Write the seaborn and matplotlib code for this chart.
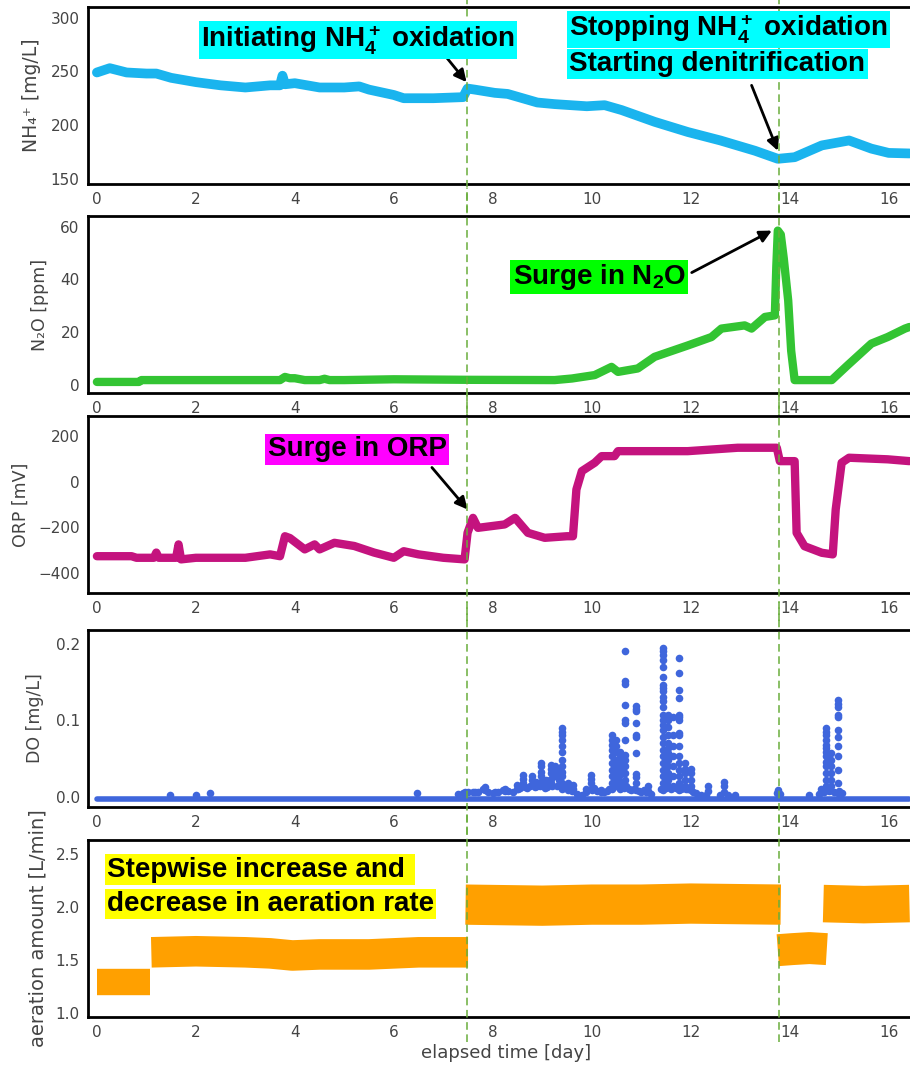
import numpy as np
import pandas as pd
import matplotlib
matplotlib.use("Agg")
import matplotlib.pyplot as plt
import seaborn as sns

# values (time in days)
nh4_t = [0.0, 0.26, 0.6, 1.0, 1.2, 1.5, 2.0, 2.5, 3.0, 3.5, 3.7, 3.75, 3.8, 4.0, 4.5, 5.0, 5.3, 5.5,
         6.0, 6.2, 6.8, 7.4, 7.49, 7.64, 8.04, 8.3, 8.9, 9.25, 9.9, 10.26, 10.6, 11.27, 11.94, 12.6,
         13.3, 13.76, 14.1, 14.65, 15.2, 15.65, 16.0, 16.42]
nh4_v = [249, 253, 249, 248, 248, 244, 240, 237, 235, 237, 237, 246, 238, 239, 235, 235, 236, 233,
         228, 225, 225, 226, 234, 233, 230, 229, 221, 219.5, 217.5, 218.5, 214, 203, 193.5, 185.6,
         176, 168.5, 170, 181, 185.6, 178, 174, 173.5]

n2o_t = [0.0, 0.85, 0.9, 3.7, 3.8, 3.9, 4.0, 4.2, 4.5, 4.6, 4.7, 5.0, 6.0, 7.5, 9.25, 9.6, 10.06,
         10.4, 10.53, 10.93, 11.27, 11.94, 12.42, 12.62, 13.09, 13.23, 13.5, 13.7, 13.73, 13.76,
         13.82, 13.88, 13.97, 14.03, 14.1, 14.85, 15.17, 15.65, 15.98, 16.33, 16.42]
n2o_v = [1.2, 1.2, 1.9, 1.9, 3.1, 2.6, 2.6, 1.9, 1.9, 2.4, 1.9, 1.9, 2.2, 2.0, 1.9, 2.5, 3.8,
         6.9, 5.0, 6.3, 10.7, 15.0, 18.2, 21.4, 22.6, 21.4, 25.8, 26.4, 45.0, 58.5,
         57.0, 48.0, 32.0, 13.0, 1.9, 1.9, 7.5, 15.7, 18.2, 21.4, 22.0]

orp_t = [0.0, 0.7, 0.8, 1.15, 1.2, 1.25, 1.6, 1.65, 1.7, 2.0, 3.0, 3.5, 3.7, 3.8, 3.9, 4.2, 4.4,
         4.5, 4.8, 5.2, 5.6, 6.0, 6.2, 6.5, 7.0, 7.43, 7.49, 7.6, 7.7, 8.24, 8.45, 8.71, 9.05, 9.5,
         9.62, 9.69, 9.8, 10.06, 10.2, 10.46, 10.53, 11.94, 12.95, 13.74, 13.8, 14.1, 14.14, 14.3,
         14.65, 14.87, 14.93, 15.05, 15.2, 15.98, 16.42]
orp_v = [-328, -328, -335, -335, -312, -335, -335, -276, -342, -335, -335, -320, -328, -240, -248,
         -298, -276, -298, -269, -283, -312, -335, -306, -320, -335, -342, -225, -159, -203, -188,
         -159, -225, -247, -240, -240, -34, 47, 84, 113, 113, 135, 135, 150, 150, 91, 91, -225,
         -284, -313, -320, -122, 84, 106, 99, 91]

# DO: flat baseline, a low carpet of readings, and columns of higher readings
do_base_t = [0.0, 16.42]
do_base_v = [-0.002, -0.002]
do_low_t = [7.30, 7.40, 7.50, 7.60, 7.70, 7.80, 7.90, 8.00, 8.10, 8.20, 8.30, 8.40, 8.50, 8.55,
            8.65, 8.70, 8.75, 8.85, 8.90, 8.95, 9.05, 9.10, 9.15, 9.20, 9.30, 9.35, 9.45, 9.50,
            9.55, 9.60, 9.70, 9.80, 10.00, 10.05, 10.10, 10.25, 10.30, 10.35, 10.45, 10.50,
            10.55, 10.60, 10.65, 10.70, 10.75, 10.80, 10.85, 10.95, 11.00, 11.05, 11.10, 11.20,
            11.40, 11.45, 11.50, 11.55, 11.60, 11.65, 11.70, 11.75, 11.80, 11.85, 11.90, 11.95,
            12.00, 12.05, 12.10, 12.20, 12.30, 12.60, 12.75, 12.90, 13.75, 13.80, 14.60, 14.70,
            14.80, 14.90, 15.00, 15.05]
do_low_v = [0.004, 0.005, 0.006, 0.006, 0.007, 0.010, 0.007, 0.005, 0.006, 0.009, 0.008, 0.007,
            0.010, 0.012, 0.013, 0.012, 0.014, 0.013, 0.015, 0.014, 0.012, 0.013, 0.016, 0.015,
            0.014, 0.016, 0.013, 0.012, 0.010, 0.008, 0.004, 0.003, 0.009, 0.012, 0.008, 0.006,
            0.008, 0.010, 0.014, 0.016, 0.013, 0.015, 0.012, 0.014, 0.011, 0.009, 0.010, 0.008,
            0.007, 0.009, 0.006, 0.004, 0.010, 0.013, 0.012, 0.014, 0.011, 0.013, 0.012, 0.014,
            0.011, 0.012, 0.010, 0.011, 0.009, 0.007, 0.005, 0.003, 0.003, 0.002, 0.003, 0.002,
            0.005, 0.004, 0.004, 0.006, 0.008, 0.007, 0.008, 0.005]
do_col_t = [1.47, 2.0, 2.28, 6.46, 7.43, 7.64, 7.84, 8.04, 8.24, 8.48, 8.61, 8.79, 8.88, 8.98, 9.08,
            9.18, 9.25, 9.33, 9.40, 9.52, 9.62, 9.89, 9.99, 10.19, 10.40, 10.48, 10.58, 10.67,
            10.90, 11.14, 11.44, 11.54, 11.64, 11.76, 11.88, 12.0, 12.35, 12.68, 13.77, 14.40,
            14.64, 14.74, 14.83, 14.98]
do_col_v = [
    [0.003], [0.003], [0.005], [0.005],
    [0.007, 0.005], [0.007], [0.0135, 0.009], [0.007], [0.011, 0.008], [0.016, 0.011],
    [0.029, 0.024, 0.018], [0.027, 0.022, 0.016], [0.020, 0.014],
    [0.044, 0.040, 0.033, 0.027, 0.020], [0.022, 0.016],
    [0.042, 0.037, 0.031, 0.024, 0.018], [0.040, 0.033, 0.027], [0.035, 0.029, 0.022, 0.016],
    [0.090, 0.085, 0.081, 0.075, 0.066, 0.059, 0.048, 0.040, 0.033, 0.027, 0.018, 0.011],
    [0.018, 0.014, 0.009], [0.016, 0.011], [0.011, 0.007], [0.029, 0.024, 0.018, 0.011],
    [0.009, 0.007],
    [0.081, 0.075, 0.068, 0.061, 0.053, 0.044, 0.035, 0.027, 0.018, 0.011],
    [0.075, 0.066, 0.059, 0.048, 0.040, 0.031, 0.022, 0.014],
    [0.059, 0.053, 0.046, 0.037, 0.029, 0.020, 0.011],
    [0.191, 0.151, 0.148, 0.120, 0.101, 0.096, 0.075, 0.055, 0.048, 0.040, 0.031, 0.022, 0.014],
    [0.119, 0.115, 0.112, 0.096, 0.081, 0.078, 0.057, 0.030, 0.026, 0.018, 0.009],
    [0.014, 0.008],
    [0.194, 0.190, 0.186, 0.179, 0.170, 0.157, 0.146, 0.142, 0.138, 0.131, 0.125, 0.118, 0.107,
     0.101, 0.094, 0.088, 0.079, 0.070, 0.061, 0.053, 0.044, 0.035, 0.027, 0.018, 0.009],
    [0.107, 0.101, 0.092, 0.081, 0.070, 0.064, 0.057, 0.048, 0.040, 0.031, 0.022, 0.014],
    [0.105, 0.081, 0.066, 0.053, 0.040, 0.027, 0.014],
    [0.181, 0.162, 0.140, 0.129, 0.107, 0.104, 0.101, 0.083, 0.081, 0.066, 0.053, 0.044, 0.035,
     0.027, 0.018, 0.009],
    [0.044, 0.037, 0.031, 0.022, 0.014], [0.037, 0.031, 0.022, 0.014],
    [0.014, 0.008], [0.020, 0.014, 0.007], [0.009, 0.006], [0.003], [0.011, 0.007],
    [0.090, 0.085, 0.081, 0.075, 0.068, 0.064, 0.059, 0.053, 0.046, 0.040, 0.031, 0.022, 0.014],
    [0.057, 0.048, 0.040, 0.031, 0.022, 0.014],
    [0.127, 0.122, 0.117, 0.107, 0.104, 0.088, 0.079, 0.066, 0.053, 0.035, 0.018, 0.005],
]

# aeration: separate blocks (segment id per point)
aer_t = [0.0, 1.08,
         1.1, 2.0, 3.0, 3.5, 3.95, 4.5, 5.5, 6.5, 7.5,
         7.45, 9.0, 10.0, 11.0, 12.0, 13.82,
         13.76, 14.05, 14.4, 14.75,
         14.68, 15.5, 16.42]
aer_v = [1.29, 1.29,
         1.57, 1.58, 1.57, 1.56, 1.54, 1.55, 1.55, 1.57, 1.57,
         2.02, 2.01, 2.02, 2.02, 2.03, 2.02,
         1.59, 1.60, 1.61, 1.60,
         2.03, 2.02, 2.03]
aer_seg = [0, 0,
           1, 1, 1, 1, 1, 1, 1, 1, 1,
           2, 2, 2, 2, 2, 2,
           3, 3, 3, 3,
           4, 4, 4]
aer_width = [19, 22, 29, 23, 27]   # band thickness per block (pt)

events = [7.47, 13.78]
x_ticks = [0, 2, 4, 6, 8, 10, 12, 14, 16]

sns.set_style("white")
plt.rcParams["font.family"] = ["DejaVu Sans"]
plt.rcParams["mathtext.fontset"] = "custom"
plt.rcParams["mathtext.rm"] = "Liberation Sans:bold"
plt.rcParams["mathtext.it"] = "Liberation Sans:bold"
plt.rcParams["mathtext.bf"] = "Liberation Sans:bold"

fig = plt.figure(figsize=(9.1, 10.68), dpi=100)
bottoms = [0.8277, 0.632, 0.4448, 0.2444, 0.0478]
axes = [fig.add_axes([0.0967, b, 0.919, 0.1657]) for b in bottoms]

tick_col = "#444444"
for ax in axes:
    ax.set_xlim(-0.18, 16.72)
    ax.set_xticks(x_ticks)
    ax.tick_params(length=0, labelsize=11, labelcolor=tick_col, pad=6)
    for sp in ax.spines.values():
        sp.set_color("black")
        sp.set_linewidth(2)

# NH4+
ax = axes[0]
sns.lineplot(x=nh4_t, y=nh4_v, ax=ax, color="#1ab4ee", lw=7, estimator=None, sort=False)
ax.set_ylim(145, 310)
ax.set_yticks([150, 200, 250, 300])
ax.set_ylabel("NH₄⁺ [mg/L]", fontsize=13.5, color=tick_col, labelpad=7)

# N2O
ax = axes[1]
sns.lineplot(x=n2o_t, y=n2o_v, ax=ax, color="#33c433", lw=6, estimator=None, sort=False)
ax.set_ylim(-3, 64)
ax.set_yticks([0, 20, 40, 60])
ax.set_ylabel("N₂O [ppm]", fontsize=12.5, color=tick_col, labelpad=8)

# ORP
ax = axes[2]
sns.lineplot(x=orp_t, y=orp_v, ax=ax, color="#c4137e", lw=6, estimator=None, sort=False)
ax.set_ylim(-490, 290)
ax.set_yticks([200, 0, -200, -400])
ax.set_ylabel("ORP [mV]", fontsize=12.5, color=tick_col, labelpad=6)

# DO
ax = axes[3]
do_df = pd.DataFrame({
    "t": np.concatenate([do_low_t, np.repeat(do_col_t, [len(v) for v in do_col_v])]),
    "v": np.concatenate([do_low_v, np.concatenate(do_col_v)]),
})
sns.lineplot(x=do_base_t, y=do_base_v, ax=ax, color="#3f66dc", lw=4, estimator=None, sort=False)
sns.scatterplot(data=do_df, x="t", y="v", ax=ax, color="#3f66dc", s=30, linewidth=0)
ax.set_ylim(-0.013, 0.218)
ax.set_yticks([0.0, 0.1, 0.2])
ax.set_ylabel("DO [mg/L]", fontsize=12.5, color=tick_col, labelpad=8)

# aeration
ax = axes[4]
aer_df = pd.DataFrame({"t": aer_t, "v": aer_v, "seg": aer_seg})
for seg, grp in aer_df.groupby("seg"):
    sns.lineplot(data=grp, x="t", y="v", ax=ax, color="#ffa000", lw=aer_width[seg],
                 estimator=None, sort=False, solid_capstyle="butt", solid_joinstyle="round")
ax.set_ylim(0.96, 2.63)
ax.set_yticks([1.0, 1.5, 2.0, 2.5])
ax.set_ylabel("aeration amount [L/min]", fontsize=14, color=tick_col, labelpad=6)

for ax in axes[:4]:
    ax.set_xlabel("")
axes[4].set_xlabel("elapsed time [day]", fontsize=13, color=tick_col, labelpad=3)

# dashed event lines running through all panels
spans = [(-0.16, 1.05), (-0.16, 1.16), (-0.16, 1.16), (-0.16, 1.16), (-0.14, 1.16)]
for ax, (lo, hi) in zip(axes, spans):
    for ev in events:
        ax.axvline(ev, ymin=lo, ymax=hi, clip_on=False, color="#6aae3c", lw=1.1,
                   ls=(0, (5, 3)), zorder=5)

# annotations
txt = dict(fontsize=20, fontweight="bold", family="Liberation Sans", va="center", ha="left",
           color="black", zorder=10)
arrow = dict(arrowstyle="-|>", color="black", lw=2, mutation_scale=18, shrinkA=0, shrinkB=0)


def label(ax, x, y, s, fc):
    ax.text(x, y, s, bbox=dict(boxstyle="square,pad=0.08", fc=fc, ec="none"), **txt)


label(axes[0], 2.1, 279, "Initiating NH$_4^+$ oxidation", "#00ffff")
axes[0].annotate("", xy=(7.47, 240), xytext=(7.03, 265), arrowprops=arrow)
label(axes[0], 9.55, 289, "Stopping NH$_4^+$ oxidation", "#00ffff")
label(axes[0], 9.55, 257, "Starting denitrification", "#00ffff")
axes[0].annotate("", xy=(13.76, 176), xytext=(13.23, 237), arrowprops=arrow)

label(axes[1], 8.4, 41, "Surge in N$_2$O", "#00ff00")
axes[1].annotate("", xy=(13.64, 58.5), xytext=(12.02, 42.6), arrowprops=arrow)

label(axes[2], 3.45, 143, "Surge in ORP", "#ff00ff")
axes[2].annotate("", xy=(7.49, -122), xytext=(6.77, 63), arrowprops=arrow)

label(axes[4], 0.2, 2.35, "Stepwise increase and ", "#ffff00")
label(axes[4], 0.2, 2.025, "decrease in aeration rate", "#ffff00")

fig.savefig("out.png", dpi=100)
